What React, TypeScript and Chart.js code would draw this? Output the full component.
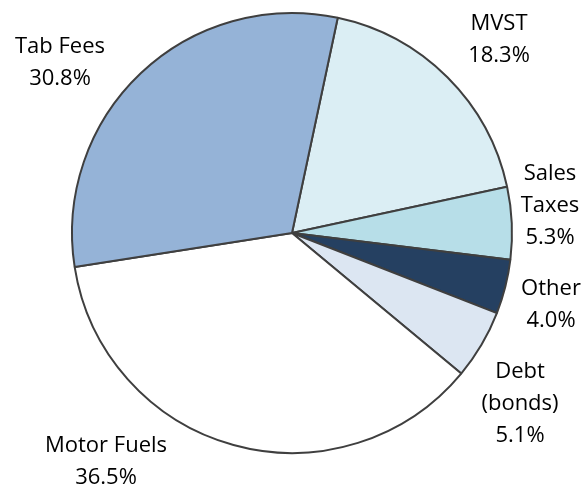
import React, { useEffect, useRef } from "react";
import { Chart, registerables } from "chart.js";

Chart.register(...registerables);

const categories = ["MVST", "Sales Taxes", "Other", "Debt (bonds)", "Motor Fuels", "Tab Fees"];
const labelLines = [["MVST"], ["Sales", "Taxes"], ["Other"], ["Debt", "(bonds)"], ["Motor Fuels"], ["Tab Fees"]];
const shares = [18.3, 5.3, 4.0, 5.1, 36.5, 30.8];
const colors = ["#DBEEF4", "#B7DEE8", "#254061", "#DCE6F2", "#FFFFFF", "#95B3D7"];

// label block centre offsets relative to pie centre, in units of radius
const labelOffsets = [
  [207 / 220, -193 / 220],
  [258 / 220, -27 / 220],
  [259 / 220, 72 / 220],
  [228 / 220, 171 / 220],
  [-186 / 220, 229 / 220],
  [-232 / 220, -170 / 220],
];

const FONT = "22px 'Open Sans'";
const LINE_H = 32;

const labelPlugin = {
  id: "pieLabels",
  afterDraw(chart: any) {
    const meta = chart.getDatasetMeta(0);
    const ctx = chart.ctx;
    ctx.save();
    ctx.font = FONT;
    ctx.fillStyle = "#000000";
    ctx.textAlign = "center";
    ctx.textBaseline = "middle";
    meta.data.forEach((arc: any, i: number) => {
      const { x, y, outerRadius } = arc.getProps(["x", "y", "outerRadius"], true);
      const lines = [...labelLines[i], shares[i].toFixed(1) + "%"];
      const cx = x + labelOffsets[i][0] * outerRadius;
      const cy = y + labelOffsets[i][1] * outerRadius;
      const top = cy - ((lines.length - 1) * LINE_H) / 2;
      lines.forEach((t, k) => ctx.fillText(t, cx, top + k * LINE_H));
    });
    ctx.restore();
  },
};

export default function App() {
  const ref = useRef<HTMLCanvasElement>(null);
  useEffect(() => {
    document.body.style.margin = "0";
    const chart = new Chart(ref.current!, {
      type: "pie",
      data: {
        labels: categories,
        datasets: [
          {
            data: shares,
            backgroundColor: colors,
            borderColor: "#3F3F3F",
            borderWidth: 2,
          },
        ],
      },
      options: {
        animation: false,
        responsive: false,
        rotation: 12,
        layout: { padding: { top: 12, bottom: 35, left: 71, right: 75 } },
        plugins: { legend: { display: false }, tooltip: { enabled: false } },
      },
      plugins: [labelPlugin],
    });
    return () => chart.destroy();
  }, []);
  return (
    <div style={{ width: 588, height: 489 }}>
      <canvas ref={ref} width={588} height={489} style={{ display: "block" }} />
    </div>
  );
}
